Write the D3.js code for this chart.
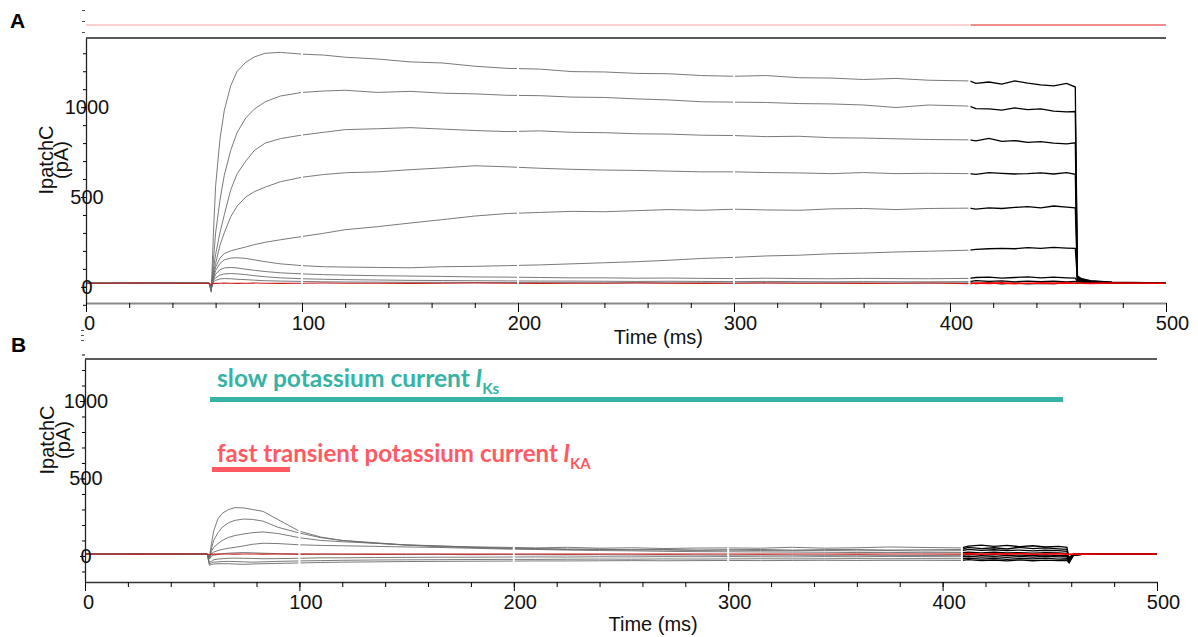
<!DOCTYPE html>
<html>
<head>
<meta charset="utf-8">
<script src="https://cdn.jsdelivr.net/npm/d3@7"></script>
<style>
body { margin: 0; background: #fff; }
text { font-family: "Liberation Sans", Arial, sans-serif; }
</style>
</head>
<body>
<div id="chart"></div>
<script>
// sample times (ms), shared by every sweep
var times = [0, 25, 50, 57, 58, 59, 60, 62, 64, 67, 70, 74, 78, 83, 90, 100, 110, 120, 135, 150,
  165, 180, 195, 210, 225, 240, 255, 270, 285, 300, 315, 330, 345, 360, 375, 390, 409, 412, 418, 424,
  430, 436, 442, 448, 454, 458, 459, 461, 465, 475, 500];

// panel A: total outward current (pA)
var sweepsA = [
  [20, 22, 19, 20, -30, 300, 560, 820, 980, 1120, 1200, 1250, 1280, 1300, 1305, 1295, 1290, 1278, 1268, 1252,
   1246, 1228, 1216, 1212, 1198, 1196, 1188, 1186, 1176, 1172, 1176, 1164, 1162, 1154, 1160, 1150, 1146, 1132, 1140, 1128,
   1146, 1134, 1124, 1118, 1132, 1112, 60, 45, 34, 26, 22],
  [18, 20, 21, 19, -25, 150, 300, 480, 620, 760, 860, 940, 990, 1030, 1062, 1082, 1090, 1094, 1082, 1088,
   1078, 1074, 1066, 1064, 1056, 1054, 1046, 1040, 1030, 1028, 1026, 1020, 1018, 1012, 998, 1012, 1006, 992, 990, 984,
   996, 986, 990, 978, 974, 976, 55, 42, 32, 25, 21],
  [21, 19, 20, 22, -20, 100, 180, 300, 400, 540, 630, 700, 760, 800, 825, 845, 860, 875, 880, 886,
   878, 870, 864, 868, 860, 858, 852, 850, 844, 842, 836, 838, 830, 828, 824, 820, 818, 812, 826, 810,
   814, 804, 808, 800, 796, 802, 50, 40, 30, 24, 20],
  [19, 21, 20, 18, -18, 80, 130, 230, 300, 390, 450, 500, 530, 555, 585, 610, 625, 635, 640, 652,
   662, 674, 668, 660, 654, 650, 648, 644, 640, 640, 636, 634, 630, 636, 630, 632, 630, 626, 636, 632,
   628, 630, 634, 628, 636, 626, 45, 36, 28, 23, 20],
  [20, 18, 21, 20, -15, 60, 110, 160, 185, 200, 210, 222, 235, 248, 262, 280, 298, 318, 335, 355,
   374, 394, 408, 414, 420, 418, 424, 430, 426, 432, 428, 426, 434, 436, 430, 436, 438, 432, 440, 436,
   442, 446, 440, 450, 444, 440, 40, 33, 27, 22, 20],
  [21, 20, 19, 21, -12, 50, 90, 130, 150, 160, 162, 158, 150, 140, 128, 118, 112, 110, 108, 106,
   112, 114, 118, 122, 128, 134, 140, 148, 158, 164, 172, 176, 184, 188, 194, 198, 204, 208, 212, 214,
   212, 218, 214, 220, 216, 214, 35, 30, 26, 22, 20],
  [20, 21, 20, 19, -10, 40, 70, 95, 105, 108, 105, 98, 92, 85, 78, 72, 68, 65, 62, 60,
   58, 55, 54, 52, 50, 50, 48, 49, 47, 46, 48, 46, 45, 47, 46, 45, 47, 52, 54, 48,
   52, 55, 50, 54, 50, 48, 30, 27, 24, 21, 20],
  [20, 19, 21, 20, -8, 35, 50, 65, 72, 74, 72, 68, 62, 56, 50, 45, 42, 40, 38, 36,
   35, 34, 33, 32, 32, 31, 30, 31, 30, 29, 30, 29, 28, 29, 28, 28, 29, 34, 30, 33,
   28, 32, 29, 31, 28, 30, 26, 24, 22, 21, 20],
  [19, 20, 20, 21, -5, 28, 36, 44, 46, 45, 42, 40, 37, 34, 32, 30, 28, 27, 26, 25,
   25, 24, 24, 23, 23, 22, 23, 22, 22, 21, 22, 21, 22, 21, 20, 21, 22, 18, 22, 17,
   21, 16, 20, 18, 22, 19, 22, 21, 20, 20, 20]
];
var redA = [20, 21, 20, 20, 12, 18, 19, 20, 21, 20, 19, 20, 21, 20, 19, 20, 21, 20, 20, 19,
  20, 21, 20, 19, 20, 20, 21, 20, 19, 20, 21, 20, 20, 19, 20, 21, 18, 21, 19, 22,
  18, 20, 21, 19, 22, 20, 24, 20, 19, 21, 20];

// panel B: subtracted transient current (pA)
var sweepsB = [
  [12, 13, 12, 12, -10, 80, 160, 240, 275, 300, 312, 310, 300, 288, 235, 160, 122, 100, 86, 70,
   64, 58, 56, 52, 56, 50, 53, 48, 51, 52, 50, 56, 50, 53, 58, 55, 52, 64, 70, 62,
   68, 60, 66, 58, 62, 55, -25, 8, 12, 13, 12],
  [13, 12, 12, 13, -12, 50, 100, 150, 185, 215, 230, 238, 236, 225, 185, 148, 118, 100, 82, 70,
   60, 55, 48, 45, 42, 44, 40, 42, 38, 40, 42, 38, 41, 42, 38, 40, 42, 55, 48, 53,
   45, 56, 48, 52, 46, 42, -20, 10, 12, 12, 13],
  [12, 12, 13, 12, -14, 30, 55, 80, 100, 120, 132, 142, 150, 155, 145, 118, 100, 92, 82, 72,
   65, 58, 52, 48, 45, 42, 40, 38, 36, 38, 35, 34, 36, 33, 35, 32, 34, 42, 36, 40,
   35, 38, 33, 37, 35, 30, -15, 10, 12, 12, 12],
  [12, 13, 12, 12, -16, 15, 25, 35, 42, 50, 56, 65, 75, 82, 80, 72, 68, 66, 62, 58,
   55, 50, 45, 42, 38, 35, 33, 30, 28, 27, 26, 25, 24, 22, 23, 21, 22, 25, 20, 24,
   19, 22, 18, 21, 20, 16, -10, 11, 12, 12, 12],
  [12, 12, 12, 13, -20, 0, 5, 10, 14, 18, 20, 22, 20, 18, 15, 12, 11, 10, 10, 9,
   10, 8, 9, 8, 7, 8, 6, 7, 6, 5, 6, 5, 4, 5, 4, 3, 4, 10, 4, 8,
   2, 6, 3, 7, 2, 4, -30, 8, 11, 12, 12],
  [12, 12, 13, 12, -40, -35, -25, -20, -18, -15, -14, -15, -16, -18, -17, -15, -12, -12, -10, -9,
   -8, -8, -7, -6, -7, -5, -6, -4, -5, -4, -5, -6, -4, -5, -3, -4, -5, -2, -8, -4,
   -9, -3, -7, -2, -6, -5, -35, 6, 10, 12, 12],
  [12, 13, 12, 12, -50, -45, -40, -38, -36, -35, -36, -38, -40, -38, -35, -32, -30, -28, -26, -25,
   -24, -23, -22, -22, -21, -20, -21, -19, -20, -19, -18, -19, -18, -17, -18, -17, -18, -14, -20, -15,
   -22, -16, -19, -14, -21, -18, -40, 5, 10, 12, 12],
  [13, 12, 12, 12, -60, -55, -52, -50, -50, -50, -52, -54, -52, -50, -48, -45, -42, -40, -38, -36,
   -35, -34, -33, -32, -32, -31, -30, -31, -30, -29, -30, -29, -28, -29, -28, -28, -29, -24, -30, -26,
   -32, -25, -31, -27, -30, -28, -45, 4, 10, 12, 12]
];
var redB = [13, 12, 13, 13, 8, 12, 13, 12, 13, 13, 12, 13, 13, 12, 13, 12, 13, 13, 12, 13,
  13, 12, 13, 13, 12, 13, 13, 12, 13, 13, 12, 13, 13, 12, 13, 13, 12, 15, 11, 14,
  12, 15, 11, 13, 14, 12, 10, 13, 12, 13, 13];

var xMajor = [0, 100, 200, 300, 400, 500];
var yMajor = [0, 500, 1000];
var segBreaks = [100, 200, 300, 409];   // sweep segment joins
var darkFrom = 409;                      // last segment drawn dark
var stimTicks = [0, 1, 2];

var slowText = ["slow potassium current", " I", "Ks"];
var fastText = ["fast transient potassium current", " I", "KA"];
var slowSpan = [58.3, 456.2];
var fastSpan = [59.2, 95.6];

var svg = d3.select("#chart").append("svg").attr("width", 1198).attr("height", 637);

function panel(o) {
  var x = d3.scaleLinear().domain([0, 500]).range(o.xr);
  var y = d3.scaleLinear().domain(o.yd).range(o.yr);
  var g = svg.append("g");
  var line = d3.line().x(function (d) { return x(d[0]); }).y(function (d) { return y(d[1]); });

  function pts(v) { return times.map(function (t, i) { return [t, v[i]]; }); }

  // stimulus ticks above the frame
  var s = d3.scaleLinear().domain([0, 2]).range(o.stimR);
  g.append("g").attr("transform", "translate(" + (o.xr[0] - 1) + ",0)")
    .call(d3.axisLeft(s).tickValues(stimTicks).tickSize(3).tickFormat(""))
    .call(function (a) { a.select(".domain").remove(); a.selectAll("line").attr("stroke", "#555"); });

  if (o.stim) {
    g.append("line").attr("x1", x(0)).attr("x2", x(darkFrom)).attr("y1", o.stim).attr("y2", o.stim)
      .attr("stroke", "#f3a3a3").attr("stroke-width", 1.2);
    g.append("line").attr("x1", x(darkFrom) + 1).attr("x2", x(500)).attr("y1", o.stim).attr("y2", o.stim)
      .attr("stroke", "#e31a1a").attr("stroke-width", 1.2);
  }

  // frame top
  g.append("line").attr("x1", x(0)).attr("x2", x(500)).attr("y1", o.yr[1]).attr("y2", o.yr[1])
    .attr("stroke", "#222").attr("stroke-width", 1.4);

  o.sweeps.forEach(function (v) {
    var p = pts(v);
    g.append("path").attr("d", line(p.filter(function (d) { return d[0] <= darkFrom; })))
      .attr("fill", "none").attr("stroke", "#6b6b6b").attr("stroke-width", 0.9);
    g.append("path").attr("d", line(p.filter(function (d) { return d[0] >= darkFrom; })))
      .attr("fill", "none").attr("stroke", "#000").attr("stroke-width", 1.3);
  });
  var pr = pts(o.red);
  g.append("path").attr("d", line(pr.filter(function (d) { return d[0] <= darkFrom; })))
    .attr("fill", "none").attr("stroke", "#c81e1e").attr("stroke-width", 1.1);
  g.append("path").attr("d", line(pr.filter(function (d) { return d[0] >= darkFrom; })))
    .attr("fill", "none").attr("stroke", "#ff0000").attr("stroke-width", 1.6);

  // white joins between sweep segments
  segBreaks.forEach(function (b) {
    g.append("rect").attr("x", x(b) - 1).attr("y", o.yr[1] + 4)
      .attr("width", 2).attr("height", o.yr[0] - o.yr[1] - 10).attr("fill", "#fff");
  });

  // x axis
  var xa = g.append("g").attr("transform", "translate(0," + o.yr[0] + ")");
  xa.call(d3.axisBottom(x).tickValues(d3.range(0, 501, 20)).tickSize(5).tickSizeOuter(0).tickFormat(""))
    .call(function (a) { a.select(".domain").attr("stroke", o.axisCol).attr("stroke-width", o.axisW); });
  xa.append("g").call(d3.axisBottom(x).tickValues(xMajor).tickSize(9).tickPadding(4).tickFormat(d3.format("d")))
    .call(function (a) {
      a.select(".domain").remove();
      a.selectAll("text").attr("font-size", 20).attr("fill", "#111").style("font-family", "Liberation Sans, Arial")
        .attr("dx", function (d) { return d === 0 ? 3 : 6; });
    });
  g.append("text").attr("x", x(265)).attr("y", o.yr[0] + o.titleDy).attr("text-anchor", "middle")
    .attr("font-size", 20).attr("fill", "#111").text("Time (ms)");

  // y axis
  var ya = g.append("g").attr("transform", "translate(" + o.xr[0] + ",0)");
  ya.call(d3.axisLeft(y).tickValues(d3.range(-100, 1301, 100)).tickSize(3).tickSizeOuter(0).tickFormat(""))
    .call(function (a) { a.select(".domain").attr("stroke", "#222").attr("stroke-width", 1.3); });
  ya.append("g").call(d3.axisLeft(y).tickValues(yMajor).tickSize(5).tickFormat(d3.format("d")))
    .call(function (a) {
      a.select(".domain").remove();
      a.selectAll("text").attr("x", 1).attr("text-anchor", "middle").attr("font-size", 20)
        .attr("fill", "#111").style("font-family", "Liberation Sans, Arial");
    });

  var yt = g.append("text").attr("transform", "translate(" + o.ytX + "," + o.ytY + ") rotate(-90)")
    .attr("text-anchor", "middle").attr("font-size", 20).attr("fill", "#111");
  yt.append("tspan").attr("x", 0).attr("y", 0).text("IpatchC");
  yt.append("tspan").attr("x", 0).attr("y", 15.5).text("(pA)");

  g.append("text").attr("x", o.lbl[0]).attr("y", o.lbl[1]).attr("font-size", 21)
    .attr("font-weight", "bold").attr("fill", "#000").text(o.name);

  return { x: x, y: y, g: g };
}

var A = panel({
  name: "A", lbl: [10, 28], xr: [86, 1166], yd: [-90, 1385], yr: [303, 38],
  sweeps: sweepsA, red: redA, stim: 25, stimR: [32, 10], axisCol: "#888", axisW: 2,
  titleDy: 41, ytX: 52.5, ytY: 160
});
var B = panel({
  name: "B", lbl: [11, 352], xr: [85, 1157], yd: [-168, 1271], yr: [582, 359],
  sweeps: sweepsB, red: redB, stim: null, stimR: [340, 330], axisCol: "#333", axisW: 1.4,
  titleDy: 49, ytX: 54, ytY: 440
});

function note(p, parts, span, color, base, barY, target) {
  var t = p.g.append("text").attr("x", 217).attr("y", base).attr("fill", color)
    .style("font-family", "Lato, 'Open Sans', sans-serif").style("font-weight", "bold").style("font-size", "20px");
  var main = t.append("tspan").text(parts[0]);
  var fs = 20 * target / main.node().getComputedTextLength();
  t.style("font-size", fs + "px");
  t.append("tspan").text(parts[1]).style("font-style", "italic");
  t.append("tspan").text(parts[2]).attr("dy", fs * 0.28).style("font-size", (fs * 0.62) + "px");
  p.g.append("line").attr("x1", p.x(span[0])).attr("x2", p.x(span[1])).attr("y1", barY).attr("y2", barY)
    .attr("stroke", color).attr("stroke-width", 5);
}
note(B, slowText, slowSpan, "#37b3a5", 387, 399.5, 253);
note(B, fastText, fastSpan, "#ff5a63", 462, 469.5, 341);
</script>
</body>
</html>
